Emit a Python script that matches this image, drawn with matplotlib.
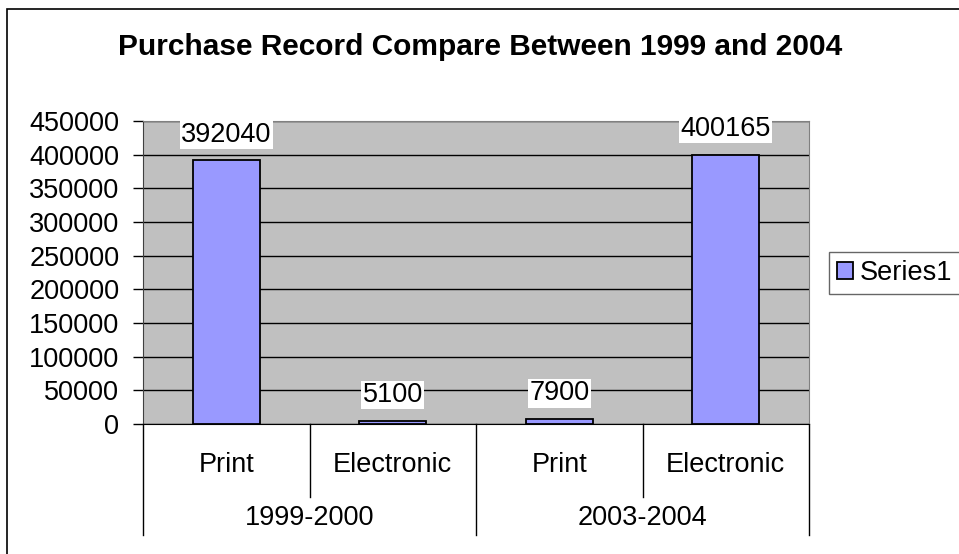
import matplotlib

matplotlib.use("Agg")
import matplotlib.pyplot as plt
from matplotlib.patches import Rectangle
from matplotlib.transforms import blended_transform_factory

# data
categories = ["Print", "Electronic", "Print", "Electronic"]
groups = ["1999-2000", "2003-2004"]
values = [392040, 5100, 7900, 400165]
yticks = list(range(0, 450001, 50000))

W, H = 959, 554
plt.rcParams["font.family"] = ["Liberation Sans", "DejaVu Sans"]

fig = plt.figure(figsize=(W / 100, H / 100), dpi=100)
fig.patch.set_facecolor("white")

# outer chart border (only left/top visible in the reference)
fig.add_artist(Rectangle((7 / W, -0.1), 1.2, (H - 9) / H + 0.1, transform=fig.transFigure,
                         fill=False, edgecolor="black", lw=1.2))

L, R, T, B = 143, 809, 121, 424
ax = fig.add_axes([L / W, 1 - B / H, (R - L) / W, (B - T) / H])
ax.set_facecolor("#C0C0C0")

x = list(range(len(values)))
ax.bar(x, values, width=0.4, color="#9999FF", edgecolor="black", lw=1.3, zorder=3,
       label="Series1")
ax.set_xlim(-0.5, len(values) - 0.5)
ax.set_ylim(0, 450000)
ax.set_yticks(yticks)
ax.set_yticklabels([str(v) for v in yticks], fontsize=19.5)
ax.tick_params(axis="y", length=7, width=1, direction="out", pad=10)
ax.set_xticks([])
ax.yaxis.grid(True, color="black", lw=1)
ax.set_axisbelow(True)
for side in ["top", "right"]:
    ax.spines[side].set_color("#808080")
ax.spines["left"].set_color("#404040")
ax.spines["bottom"].set_color("black")

for xi, v in zip(x, values):
    ax.annotate(str(v), (xi, v), xytext=(0, 9), textcoords="offset points",
                ha="center", va="bottom", fontsize=19.5,
                bbox=dict(facecolor="white", edgecolor="none", pad=1.0), zorder=4)

# multi-level category axis
tr = blended_transform_factory(ax.transData, fig.transFigure)
def fy(py):
    return 1 - py / H

for i, c in enumerate(categories):
    ax.text(i, fy(465), c, transform=tr, ha="center", va="center", fontsize=19.5)
for sep in [0.5, 2.5]:
    ax.plot([sep, sep], [fy(B), fy(497)], transform=tr, color="black", lw=1, clip_on=False)
for sep in [-0.5, 1.5, 3.5]:
    ax.plot([sep, sep], [fy(B), fy(535)], transform=tr, color="black", lw=1, clip_on=False)
for gi, g in enumerate(groups):
    ax.text(gi * 2 + 0.5, fy(518), g, transform=tr, ha="center", va="center", fontsize=19.5)

fig.text(480 / W, fy(47), "Purchase Record Compare Between 1999 and 2004",
         ha="center", va="center", fontsize=21.5, fontweight="bold")

leg = ax.legend(loc="center left", bbox_to_anchor=(829 / W, fy(273)), bbox_transform=fig.transFigure,
                fontsize=19.5, frameon=True, fancybox=False, handlelength=0.6, handleheight=0.6,
                handletextpad=0.25, borderpad=0.3, borderaxespad=0)
leg.get_frame().set_edgecolor("#404040")
leg.get_frame().set_linewidth(1)

fig.savefig("out.png", dpi=100)
